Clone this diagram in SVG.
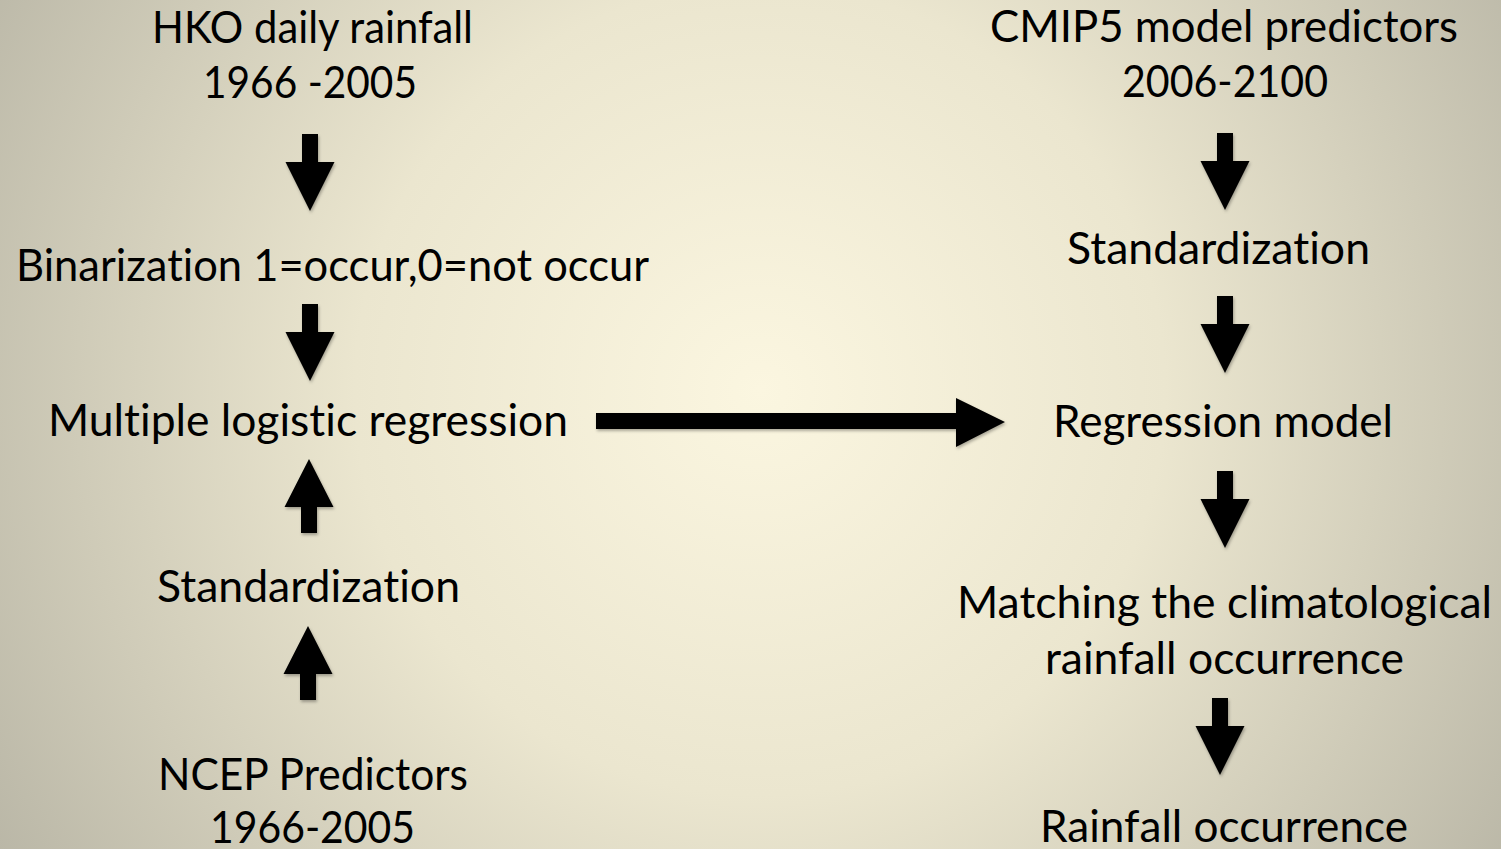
<svg xmlns="http://www.w3.org/2000/svg" xmlns:xlink="http://www.w3.org/1999/xlink" width="1501" height="849" viewBox="0 0 1501 849">
<defs>
<radialGradient id="bg" gradientUnits="userSpaceOnUse" cx="760" cy="390" r="900">
<stop offset="0" stop-color="#fbf6e0"/>
<stop offset="0.45" stop-color="#ebe6cf"/>
<stop offset="1" stop-color="#b9b6a6"/>
</radialGradient>
<filter id="sh" x="-20%" y="-20%" width="140%" height="140%">
<feDropShadow dx="1" dy="2" stdDeviation="1.5" flood-color="#000" flood-opacity="0.3"/>
</filter>
<path id="down" d="M-8,-77 H8 V-49 H24.5 L0,0 L-24.5,-49 H-8 Z"/>
<path id="up" d="M-8,74 H8 V48 H24.5 L0,0 L-24.5,48 H-8 Z"/>
</defs>
<style>
text{font-family:Lato,"Liberation Sans",sans-serif;font-size:44px;fill:#000;font-variant-ligatures:none;}
.a{fill:#000;filter:url(#sh);}
</style>
<rect width="1501" height="849" fill="url(#bg)"/>
<g id="connectors">
<use class="a" href="#down" transform="translate(310,211)"/>
<use class="a" href="#down" transform="translate(310,381)"/>
<use class="a" href="#up" transform="translate(309,459)"/>
<use class="a" href="#up" transform="translate(308,626)"/>
<use class="a" href="#down" transform="translate(1225,210)"/>
<use class="a" href="#down" transform="translate(1225,373)"/>
<use class="a" href="#down" transform="translate(1225,548)"/>
<use class="a" href="#down" transform="translate(1220,775)"/>
<path class="a" d="M596,413 H956 V398 L1005,422 L956,447 V429 H596 Z"/>
</g>
<g id="hko">
<text x="152" y="43" textLength="321" lengthAdjust="spacingAndGlyphs">HKO daily rainfall</text>
<text x="203" y="98" textLength="214" lengthAdjust="spacingAndGlyphs">1966 -2005</text>
</g>
<g id="binarization">
<text x="16" y="281" textLength="633" lengthAdjust="spacingAndGlyphs">Binarization 1=occur,0=not occur</text>
</g>
<g id="mlr">
<text x="48" y="436" textLength="520" lengthAdjust="spacingAndGlyphs">Multiple logistic regression</text>
</g>
<g id="std-left">
<text x="157" y="602" textLength="303" lengthAdjust="spacingAndGlyphs">Standardization</text>
</g>
<g id="ncep">
<text x="158" y="790" textLength="310" lengthAdjust="spacingAndGlyphs">NCEP Predictors</text>
<text x="210" y="843" textLength="205" lengthAdjust="spacingAndGlyphs">1966-2005</text>
</g>
<g id="cmip5">
<text x="990" y="42" textLength="468" lengthAdjust="spacingAndGlyphs">CMIP5 model predictors</text>
<text x="1122" y="97" textLength="206" lengthAdjust="spacingAndGlyphs">2006-2100</text>
</g>
<g id="std-right">
<text x="1067" y="264" textLength="303" lengthAdjust="spacingAndGlyphs">Standardization</text>
</g>
<g id="regression">
<text x="1053" y="437" textLength="340" lengthAdjust="spacingAndGlyphs">Regression model</text>
</g>
<g id="matching">
<text x="957" y="618" textLength="535" lengthAdjust="spacingAndGlyphs">Matching the climatological</text>
<text x="1045" y="674" textLength="359" lengthAdjust="spacingAndGlyphs">rainfall occurrence</text>
</g>
<g id="occurrence">
<text x="1040" y="842" textLength="368" lengthAdjust="spacingAndGlyphs">Rainfall occurrence</text>
</g>
</svg>
